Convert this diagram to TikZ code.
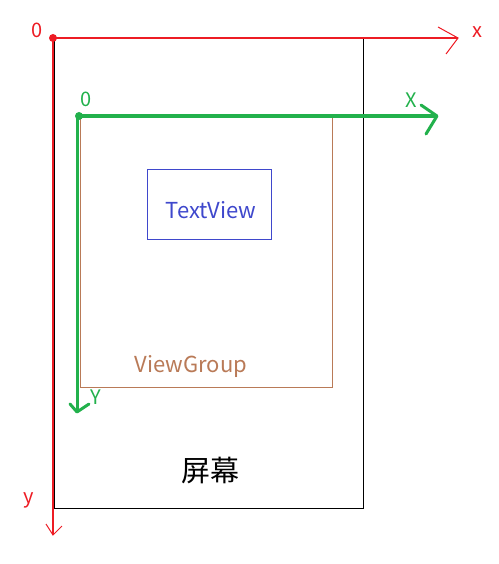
\documentclass[tikz,border=0pt]{standalone}
\usepackage{fontspec}
\setmainfont{Noto Sans CJK SC}
\definecolor{pred}{HTML}{ED1C24}
\definecolor{pgreen}{HTML}{22B14C}
\definecolor{pbrown}{HTML}{B97A57}
\definecolor{pblue}{HTML}{3F48CC}
\begin{document}
\begin{tikzpicture}[x=1pt,y=-1pt,
  lbl/.style={inner sep=0pt,font=\fontsize{20}{20}\selectfont},
  boxlbl/.style={inner sep=0pt,font=\fontsize{22}{22}\selectfont},
  redax/.style={pred,line width=2pt},
  redhead/.style={pred,line width=1pt},
  greenax/.style={pgreen,line width=3.5pt},
  greenhead/.style={pgreen,line width=3pt,line cap=round,line join=round}]
\useasboundingbox (0,0) rectangle (498,564);
% screen
\draw[black,line width=1pt] (54,38) rectangle (363,508);
\node[font=\fontsize{29}{29}\selectfont] (screen) at (210,471) {屏幕};
% red axes
\coordinate (O) at (53,38);
\coordinate (xe) at (458,38);
\coordinate (ye) at (53,535);
\draw[redax] (O) -- (xe);
\draw[redax] (O) -- (ye);
\draw[redhead] (438,27) -- (xe) -- (446,54);
\draw[redhead] (46,524) -- (ye) -- (62,526);
\fill[pred] (O) circle (4);
\node[lbl,pred] (o1) at (37,30) {0};
\node[lbl,pred] (xl) at (477,32) {x};
\node[lbl,pred] (yl) at (29,500) {y};
% viewgroup
\draw[pbrown,line width=1pt] (80,116) rectangle (332,387);
\node[boxlbl,pbrown] (vg) at (191,366) {ViewGroup};
% textview
\draw[pblue,line width=1pt] (147,169) rectangle (271,239);
\node[boxlbl,pblue] (tv) at (211,210) {TextView};
% green axes
\coordinate (G) at (79,116);
\coordinate (Xe) at (437,116);
\coordinate (Ye) at (77,412);
\draw[greenax] (G) -- (Xe);
\draw[pgreen,line width=3pt] (77,116) -- (Ye);
\draw[greenhead] (421,105) -- (Xe) -- (426,134);
\draw[greenhead] (70,404) -- (Ye) -- (89,404);
\fill[pgreen] (G) circle (4);
\node[lbl,pgreen] (o2) at (86,99) {0};
\node[lbl,pgreen] (Xl) at (411,100) {X};
\node[lbl,pgreen] (Yl) at (96,397) {Y};
\end{tikzpicture}
\end{document}
